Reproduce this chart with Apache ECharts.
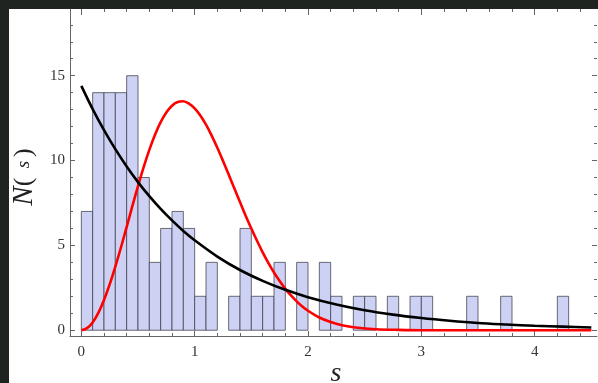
<!DOCTYPE html>
<html>
<head>
<meta charset="utf-8">
<script src="https://cdn.jsdelivr.net/npm/echarts@6/dist/echarts.min.js"></script>
<style>
html,body{margin:0;padding:0;background:#1f2421;}
#c{width:598px;height:383px;}
</style>
</head>
<body>
<div id="c"></div>
<script>
// Histogram: left bin edges and counts (bin width 0.1)
const binStarts = [0.0,0.1,0.2,0.3,0.4,0.5,0.6,0.7,0.8,0.9,1.0,1.1,1.2,1.3,1.4,1.5,1.6,1.7,1.8,1.9,2.0,2.1,2.2,2.3,2.4,2.5,2.6,2.7,2.8,2.9,3.0,3.1,3.2,3.3,3.4,3.5,3.6,3.7,3.8,3.9,4.0,4.1,4.2,4.3,4.4];
const counts    = [7,14,14,14,15,9,4,6,7,6,2,4,0,2,6,2,2,4,0,4,0,4,2,0,2,2,0,2,0,2,2,0,0,0,2,0,0,2,0,0,0,0,2,0,0];
const binWidth = 0.1;

// Black (Poisson-like) curve
const blackS = [0,0.1,0.2,0.3,0.4,0.5,0.6,0.7,0.8,0.9,1.0,1.2,1.4,1.6,1.8,2.0,2.25,2.5,2.75,3.0,3.25,3.5,3.75,4.0,4.25,4.5];
const blackN = [14.4,13.03,11.79,10.67,9.65,8.73,7.9,7.15,6.47,5.85,5.3,4.34,3.55,2.91,2.38,1.95,1.52,1.18,0.92,0.72,0.56,0.43,0.34,0.26,0.21,0.16];

// Red (Wigner-like) curve
const redS = [0,0.05,0.1,0.15,0.2,0.25,0.3,0.35,0.4,0.45,0.5,0.55,0.6,0.65,0.7,0.75,0.8,0.85,0.9,0.95,1.0,1.05,1.1,1.15,1.2,1.25,1.3,1.35,1.4,1.45,1.5,1.55,1.6,1.65,1.7,1.75,1.8,1.85,1.9,1.95,2.0,2.1,2.2,2.3,2.4,2.6,2.8,3.0,3.5,4.0,4.5];
const redN = [0,0.12,0.46,1.02,1.78,2.7,3.75,4.89,6.09,7.31,8.49,9.61,10.63,11.52,12.26,12.83,13.23,13.45,13.49,13.35,13.07,12.65,12.11,11.47,10.75,9.98,9.18,8.36,7.55,6.75,5.99,5.27,4.59,3.97,3.4,2.9,2.44,2.05,1.7,1.4,1.15,0.75,0.48,0.29,0.18,0.06,0.02,0.0,0,0,0];

// Tick values
const xMajor = [0,1,2,3,4];
const xMinor = [0,0.2,0.4,0.6,0.8,1,1.2,1.4,1.6,1.8,2,2.2,2.4,2.6,2.8,3,3.2,3.4,3.6,3.8,4,4.2,4.4];
const yMajor = [0,5,10,15];
const yMinor = [0,1,2,3,4,5,6,7,8,9,10,11,12,13,14,15,16,17,18];

const X_MIN = -0.1, X_MAX = 4.55, Y_MIN = -0.34, Y_MAX = 18.93;
const tickCol = '#666';
const labelFont = {fontFamily:'Liberation Serif', fontSize:15, color:'#333'};

function xAx(pos, vals, len, showLine, showLabel){
  return {type:'value', position:pos, min:X_MIN, max:X_MAX, splitLine:{show:false},
    axisLine:{show:showLine, onZero:false, lineStyle:{color:tickCol,width:1}},
    axisTick:{show:true, inside:true, length:len, customValues:vals, lineStyle:{color:tickCol,width:1}},
    axisLabel:Object.assign({show:showLabel, customValues:xMajor, margin:9}, labelFont)};
}
function yAx(pos, vals, len, showLine, showLabel){
  return {type:'value', position:pos, min:Y_MIN, max:Y_MAX, splitLine:{show:false},
    axisLine:{show:showLine, onZero:false, lineStyle:{color:tickCol,width:1}},
    axisTick:{show:true, inside:true, length:len, customValues:vals, lineStyle:{color:tickCol,width:1}},
    axisLabel:Object.assign({show:showLabel, customValues:yMajor, margin:5}, labelFont)};
}

const chart = echarts.init(document.getElementById('c'), null, {renderer:'canvas'});
chart.setOption({
  animation:false,
  backgroundColor:'#1f2421',
  grid:{left:70, top:9, width:527, height:327},
  graphic:[
    {type:'rect', z:-100, shape:{x:9,y:9,width:589,height:374}, style:{fill:'#ffffff'}},
    {type:'text', x:336, y:374, style:{text:'s', font:'italic 28px "Liberation Serif"', fill:'#222', align:'center', verticalAlign:'middle'}},
    {type:'text', x:24, y:177, rotation:Math.PI/2,
      style:{text:'{n|N}{p|(}{s|\u2002s\u2009}{p|)}', align:'center', verticalAlign:'middle', fill:'#222',
        rich:{n:{font:'italic 29px "Liberation Serif"', fill:'#222'},
              p:{font:'26px "Liberation Serif"', fill:'#222'},
              s:{font:'italic 19px "Liberation Serif"', fill:'#222'}}}}
  ],
  xAxis:[
    xAx('bottom', xMajor, 5, true, true),
    xAx('bottom', xMinor, 3, false, false),
    xAx('top', xMajor, 6, false, false),
    xAx('top', xMinor, 3, false, false)
  ],
  yAxis:[
    yAx('left', yMajor, 5, true, true),
    yAx('left', yMinor, 3, false, false),
    yAx('right', yMajor, 5, false, false),
    yAx('right', yMinor, 3, false, false)
  ],
  series:[
    {type:'custom', xAxisIndex:0, yAxisIndex:0,
      data: binStarts.map((s,i)=>[s, counts[i]]),
      renderItem:function(params, api){
        const x0 = api.value(0), c = api.value(1);
        if(!c) return null;
        const p1 = api.coord([x0, c]);
        const p2 = api.coord([x0 + binWidth, 0]);
        return {type:'rect', shape:{x:p1[0], y:p1[1], width:p2[0]-p1[0], height:p2[1]-p1[1]},
          style:{fill:'#cdd2f4', stroke:'rgba(60,60,75,0.75)', lineWidth:1}};
      }},
    {type:'line', xAxisIndex:0, yAxisIndex:0, data:redS.map((s,i)=>[s, redN[i]]), smooth:0.3, showSymbol:false,
      lineStyle:{color:'#ff0000', width:2.6}},
    {type:'line', xAxisIndex:0, yAxisIndex:0, data:blackS.map((s,i)=>[s, blackN[i]]), smooth:0.3, showSymbol:false,
      lineStyle:{color:'#000000', width:2.6}}
  ]
});
</script>
</body>
</html>
